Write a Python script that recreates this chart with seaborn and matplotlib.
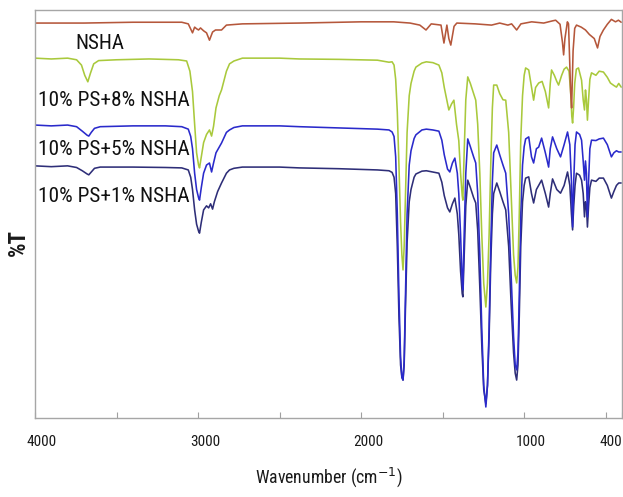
import os
import numpy as np
import pandas as pd
import matplotlib
matplotlib.use("Agg")
import matplotlib.pyplot as plt
import matplotlib.transforms as mtransforms
import matplotlib.font_manager as fm
import seaborn as sns

# ---------------- data ----------------
series_names = ["NSHA", "10% PS+8% NSHA", "10% PS+5% NSHA", "10% PS+1% NSHA"]

nsha_wn = [4000, 3700, 3400, 3100, 3060, 3034, 3021, 3009, 2997, 2985, 2966, 2948, 2930, 2911,
           2893, 2856, 2826, 2728, 2379, 2000, 1800, 1700, 1640, 1602, 1570, 1510, 1492, 1474,
           1462, 1450, 1430, 1413, 1300, 1200, 1150, 1100, 1077, 1046, 1020, 954, 880, 830, 807,
           780, 765, 758, 750, 735, 728, 715, 709, 700, 690, 679, 650, 624, 600, 570, 550, 535,
           514, 490, 465, 440, 422, 405]
nsha_t = [96.8, 96.8, 97.0, 97.0, 96.6, 94.4, 95.8, 95.4, 95.1, 95.6, 94.9, 94.4, 92.6, 94.6,
          95.1, 95.1, 96.3, 96.6, 96.8, 97.1, 97.1, 96.8, 96.3, 95.1, 96.6, 96.3, 91.9, 96.3,
          93.0, 91.4, 96.0, 96.8, 96.6, 96.3, 96.8, 96.3, 96.6, 95.1, 96.6, 97.1, 96.8, 97.3, 97.5,
          96.5, 92.0, 89.0, 93.0, 97.1, 96.6, 80.0, 76.0, 90.0, 95.5, 96.3, 95.8, 95.1, 94.0, 93.0,
          90.7, 93.5, 95.1, 96.5, 97.7, 97.1, 97.5, 97.0]

ps8_wn = [4000, 3900, 3800, 3745, 3715, 3695, 3676, 3660, 3640, 3610, 3500, 3300, 3120, 3070,
          3050, 3034, 3021, 3009, 2997, 2991, 2980, 2966, 2948, 2930, 2917, 2905, 2890, 2870,
          2856, 2826, 2807, 2780, 2728, 2500, 2379, 2135, 1900, 1829, 1810, 1798, 1788, 1778,
          1768, 1758, 1750, 1743, 1736, 1728, 1718, 1705, 1694, 1675, 1664, 1627, 1600, 1560,
          1523, 1505, 1490, 1462, 1445, 1431, 1415, 1401, 1390, 1380, 1376, 1368, 1358, 1346,
          1330, 1310, 1297, 1285, 1272, 1260, 1248, 1235, 1225, 1215, 1205, 1195, 1187, 1168,
          1150, 1130, 1113, 1095, 1080, 1065, 1055, 1046, 1038, 1030, 1021, 1010, 1000, 991,
          972, 942, 930, 911, 890, 870, 850, 840, 832, 815, 800, 789, 770, 755, 740, 725, 715,
          708, 703, 697, 690, 680, 667, 648, 638, 630, 624, 618, 612, 605, 597, 587, 560, 540,
          514, 490, 471, 450, 434, 420, 405]
ps8_t = [88.2, 88.0, 88.2, 87.8, 86.5, 84.0, 82.4, 84.5, 86.8, 87.6, 87.8, 88.0, 87.8, 87.5,
         85.0, 80.0, 72.0, 65.0, 62.0, 61.3, 64.0, 67.5, 69.5, 70.6, 69.1, 71.5, 76.0, 79.0,
         80.4, 85.0, 86.8, 87.5, 88.2, 88.2, 88.0, 87.9, 87.7, 87.2, 87.3, 86.5, 83.0, 75.0,
         62.0, 48.0, 40.0, 36.3, 42.0, 55.0, 70.0, 79.0, 82.0, 85.0, 86.0, 87.0, 87.3, 87.1,
         86.5, 84.6, 81.0, 75.5, 77.0, 77.9, 72.0, 68.0, 60.0, 54.5, 53.4, 65.0, 78.0, 83.6,
         82.0, 79.5, 77.9, 72.0, 60.0, 45.0, 33.0, 27.2, 33.0, 45.0, 62.0, 76.0, 81.6, 81.6,
         79.5, 78.0, 77.9, 70.0, 55.0, 40.0, 35.0, 33.1, 37.0, 50.0, 68.0, 79.0, 84.0, 85.8,
         85.3, 77.9, 81.0, 82.1, 82.5, 80.0, 76.0, 82.0, 85.3, 84.0, 82.5, 81.6, 84.0, 85.5,
         86.0, 85.0, 80.0, 74.0, 72.3, 76.0, 82.0, 85.5, 85.8, 82.8, 78.0, 75.5, 80.4, 78.0,
         73.0, 78.0, 83.0, 84.6, 84.0, 85.0, 84.8, 83.5, 82.1, 81.5, 81.1, 82.0, 81.1]

ps5_wn = [4000, 3900, 3800, 3745, 3710, 3680, 3670, 3655, 3635, 3600, 3400, 3200, 3100, 3060,
          3045, 3034, 3021, 3009, 2997, 2991, 2980, 2966, 2948, 2930, 2917, 2905, 2890, 2856,
          2826, 2807, 2780, 2728, 2500, 2379, 2135, 1900, 1829, 1810, 1798, 1788, 1778, 1768,
          1758, 1750, 1743, 1736, 1728, 1718, 1705, 1694, 1675, 1664, 1627, 1600, 1560, 1523,
          1505, 1490, 1470, 1456, 1440, 1425, 1410, 1401, 1390, 1380, 1376, 1368, 1358, 1346,
          1330, 1310, 1297, 1285, 1272, 1260, 1248, 1235, 1225, 1215, 1205, 1195, 1187, 1168,
          1150, 1130, 1113, 1095, 1080, 1065, 1055, 1046, 1038, 1030, 1021, 1010, 1000, 991,
          972, 955, 942, 925, 911, 893, 870, 850, 840, 826, 800, 777, 755, 734, 720, 710, 703,
          696, 688, 679, 660, 648, 638, 630, 624, 618, 612, 605, 597, 587, 560, 540, 514, 490,
          465, 450, 434, 420, 405]
ps5_t = [71.8, 71.6, 71.8, 71.4, 70.3, 69.3, 69.1, 70.0, 71.0, 71.4, 71.6, 71.6, 71.4, 70.8,
         69.0, 66.0, 60.0, 56.0, 54.0, 53.4, 56.5, 60.0, 62.0, 62.5, 60.3, 62.5, 65.0, 67.4,
         70.0, 70.6, 71.2, 71.6, 71.6, 71.4, 71.1, 70.8, 70.6, 70.1, 69.0, 64.0, 50.0, 30.0,
         15.0, 10.0, 9.3, 14.0, 30.0, 50.0, 62.0, 65.5, 68.5, 69.4, 70.6, 70.8, 70.6, 70.3,
         68.1, 64.5, 61.0, 60.3, 62.5, 63.7, 60.0, 55.0, 45.0, 33.0, 31.4, 45.0, 60.0, 68.4,
         66.5, 64.0, 62.5, 55.0, 40.0, 22.0, 8.0, 2.7, 8.0, 22.0, 42.0, 58.0, 65.0, 66.9,
         64.5, 62.0, 60.0, 50.0, 35.0, 20.0, 13.0, 11.8, 16.0, 30.0, 50.0, 62.0, 66.5, 68.4,
         68.9, 64.0, 62.5, 66.0, 66.4, 68.6, 65.0, 61.5, 66.0, 68.9, 66.0, 64.0, 67.0, 70.1,
         67.0, 58.0, 46.8, 58.0, 67.0, 70.1, 69.5, 68.1, 63.0, 58.3, 63.0, 60.0, 49.3, 58.0,
         66.0, 68.1, 68.0, 68.4, 68.6, 67.0, 64.0, 65.0, 65.5, 65.2, 65.2]

ps1_wn = [4000, 3900, 3800, 3745, 3710, 3680, 3670, 3655, 3635, 3600, 3400, 3200, 3100, 3060,
          3045, 3034, 3021, 3009, 2997, 2991, 2980, 2966, 2948, 2935, 2923, 2911, 2900, 2880,
          2856, 2826, 2807, 2780, 2728, 2500, 2379, 2135, 1900, 1829, 1810, 1798, 1788, 1778,
          1768, 1758, 1750, 1743, 1736, 1728, 1718, 1705, 1694, 1675, 1664, 1627, 1600, 1560,
          1523, 1505, 1490, 1470, 1456, 1440, 1425, 1410, 1401, 1390, 1380, 1376, 1368, 1358,
          1346, 1330, 1310, 1297, 1285, 1272, 1260, 1248, 1235, 1225, 1215, 1205, 1195, 1187,
          1168, 1150, 1130, 1113, 1095, 1080, 1065, 1055, 1046, 1038, 1030, 1021, 1010, 1000,
          991, 972, 955, 942, 925, 893, 870, 850, 840, 826, 800, 777, 755, 734, 720, 710, 703,
          696, 688, 679, 660, 648, 638, 630, 624, 618, 612, 605, 597, 587, 560, 540, 514, 490,
          465, 450, 434, 420, 405]
ps1_t = [61.8, 61.6, 61.8, 61.4, 60.6, 59.8, 59.6, 60.3, 61.2, 61.5, 61.5, 61.4, 61.3, 60.8,
         59.0, 56.0, 51.0, 47.5, 45.8, 45.3, 48.0, 51.0, 52.0, 51.5, 52.5, 51.2, 53.0, 55.5,
         57.6, 60.0, 60.8, 61.2, 61.5, 61.5, 61.3, 61.1, 60.8, 60.6, 60.2, 59.0, 55.0, 42.0,
         25.0, 13.0, 10.0, 9.3, 13.0, 27.0, 43.0, 53.0, 56.0, 59.0, 59.8, 60.5, 60.6, 60.3,
         60.0, 57.8, 54.5, 51.5, 50.5, 52.5, 53.9, 50.0, 45.0, 36.0, 30.5, 29.7, 40.0, 52.0,
         58.3, 56.5, 54.0, 52.7, 46.0, 32.0, 18.0, 7.0, 3.5, 8.0, 20.0, 38.0, 50.0, 55.0,
         57.6, 55.5, 53.0, 51.0, 42.0, 28.0, 16.0, 11.0, 9.3, 13.0, 25.0, 42.0, 53.0, 57.0,
         58.8, 59.1, 55.0, 52.7, 56.0, 58.3, 55.0, 51.7, 55.0, 58.6, 56.0, 55.1, 57.0, 60.3,
         57.0, 50.0, 46.1, 52.0, 57.0, 60.0, 59.5, 58.3, 55.0, 49.3, 53.0, 52.0, 46.8, 52.0,
         56.5, 58.3, 58.0, 58.8, 58.8, 57.0, 53.9, 55.5, 57.0, 57.6, 57.6]

x_ticks = [4000, 3000, 2000, 1000, 400]
x_tick_labels = ["4000", "3000", "2000", "1000", "400"]
x_minor = [3500, 2500, 1500, 500]

colors = {"NSHA": "#B5573B", "10% PS+8% NSHA": "#A9C93C",
          "10% PS+5% NSHA": "#2A2ACB", "10% PS+1% NSHA": "#2E2E78"}

frames = []
for name, wn, t in [("10% PS+1% NSHA", ps1_wn, ps1_t), ("10% PS+5% NSHA", ps5_wn, ps5_t),
                    ("10% PS+8% NSHA", ps8_wn, ps8_t), ("NSHA", nsha_wn, nsha_t)]:
    frames.append(pd.DataFrame({"wn": wn, "T": t, "series": name}))
df = pd.concat(frames, ignore_index=True)

# ---------------- fonts: prefer a narrow sans face ----------------
sns.set_theme(style="white")
plt.rcParams["font.family"] = ["Liberation Sans", "DejaVu Sans"]


def find_face(bold=False):
    prefs = ["LiberationSansNarrow", "RobotoCondensed", "OpenSansCondensed",
             "NotoSans-Condensed", "NotoSansCondensed", "NotoSans-SemiCondensed",
             "DejaVuSansCondensed"]
    files = [f.fname for f in fm.fontManager.ttflist]
    for p in prefs:
        for fn in files:
            base = os.path.basename(fn).replace(" ", "")
            if not base.startswith(p):
                continue
            b = "Bold" in base
            if b != bold or "Italic" in base or "Oblique" in base or "Light" in base \
                    or "Thin" in base or "Medium" in base or "Black" in base:
                continue
            return fm.FontProperties(fname=fn)
    return fm.FontProperties(family=["Liberation Sans", "DejaVu Sans"],
                             weight="bold" if bold else "normal")


fp_reg = find_face(False)
fp_bold = find_face(True)

fig = plt.figure(figsize=(6.23, 4.97), dpi=100)
ax = fig.add_axes([35 / 623, (497 - 418) / 497, (622 - 35) / 623, (418 - 10) / 497])

sns.lineplot(data=df, x="wn", y="T", hue="series", palette=colors,
             hue_order=["10% PS+1% NSHA", "10% PS+5% NSHA", "10% PS+8% NSHA", "NSHA"],
             estimator=None, sort=True, legend=False, linewidth=1.15, ax=ax)

ax.set_xlim(4000, 400)
ax.set_ylim(0, 100)
ax.set_yticks([])
ax.set_xticks(x_ticks)
ax.set_xticklabels(x_tick_labels)
ax.set_xticks(x_minor, minor=True)
ax.tick_params(axis="x", which="both", direction="in", length=4, width=0.8,
               color="#A0A0A0", labelcolor="#1a1a1a", pad=12, bottom=True)
for sp in ax.spines.values():
    sp.set_color("#A6A6A6")
    sp.set_linewidth(1.0)

ax.set_xlabel("Wavenumber (cm$^{-1}$)", color="#1a1a1a", labelpad=12)
ax.xaxis.label.set_fontproperties(fp_reg.copy())
ax.set_ylabel("")
ylab = fig.text(18 / 623, 1 - 243 / 497, "%T", rotation=90, fontproperties=fp_bold.copy(),
                ha="center", va="center", color="#1a1a1a")

label_pos = {"NSHA": (3755, 91.7), "10% PS+8% NSHA": (3982, 77.9),
             "10% PS+5% NSHA": (3982, 65.9), "10% PS+1% NSHA": (3982, 54.2)}
series_texts = []
for name in series_names:
    x, y = label_pos[name]
    series_texts.append(ax.text(x, y, name, fontproperties=fp_reg.copy(), color="#111111",
                                ha="left", va="center"))

renderer = fig.canvas.get_renderer()


def fit(txt, target, size0, use_height=False):
    txt.set_fontsize(size0)
    bb = txt.get_window_extent(renderer)
    cur = bb.height if use_height else bb.width
    if cur > 0:
        txt.set_fontsize(size0 * target / cur)


for t in series_texts:
    fit(t, 49 if t.get_text() == "NSHA" else 152, 18)
fit(ax.xaxis.label, 148, 15)
fit(ylab, 27, 13, use_height=True)

# tick labels: same narrow face, sized so "4000" is about 30 px wide
probe = fig.text(0, 0, "4000", fontproperties=fp_reg.copy())
probe.set_fontsize(13)
w = probe.get_window_extent(renderer).width
tick_size = 13 * 30 / w if w > 0 else 13
probe.remove()

tick_labels = ax.get_xticklabels()
offset = mtransforms.ScaledTranslation(0.07, 0, fig.dpi_scale_trans)
for lab in tick_labels:
    lab.set_fontproperties(fp_reg.copy())
    lab.set_fontsize(tick_size)
for lab in tick_labels[:-1]:
    lab.set_transform(lab.get_transform() + offset)
tick_labels[-1].set_horizontalalignment("right")

fig.savefig("out.png", dpi=100)
